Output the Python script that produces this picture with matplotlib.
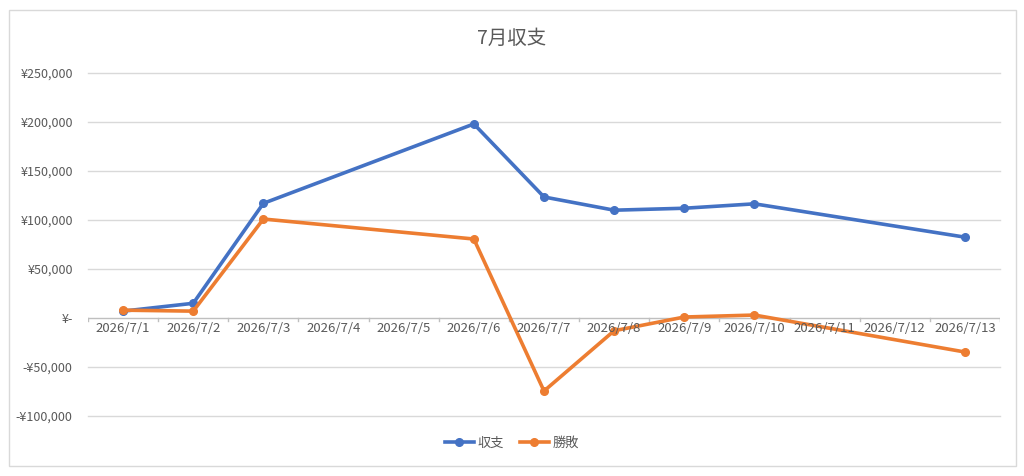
import numpy as np
import matplotlib
matplotlib.use("Agg")
import matplotlib.pyplot as plt
from matplotlib.patches import Rectangle
from matplotlib.ticker import FuncFormatter, MultipleLocator

plt.rcParams['font.family'] = ['Noto Sans CJK JP', 'DejaVu Sans']

dates = ["2026/7/1", "2026/7/2", "2026/7/3", "2026/7/4", "2026/7/5", "2026/7/6",
         "2026/7/7", "2026/7/8", "2026/7/9", "2026/7/10", "2026/7/11", "2026/7/12",
         "2026/7/13"]
shuushi = [7000, 15000, 117000, np.nan, np.nan, 198000, 123500, 110000, 112000,
           116500, np.nan, np.nan, 82500]
shouhai = [8000, 7000, 101000, np.nan, np.nan, 80600, -74500, -13000, 1000,
           3000, np.nan, np.nan, -34700]
series_names = ["収支", "勝敗"]
colors = ["#4472C4", "#ED7D31"]
title = "7月収支"

W, H = 1024, 476
fig = plt.figure(figsize=(W / 100, H / 100), dpi=100)
fig.patches.append(Rectangle((9 / W, 1 - 466 / H), (1016 - 9) / W, (466 - 10) / H,
                             transform=fig.transFigure, fill=False,
                             edgecolor="#D9D9D9", linewidth=1))

left, right, top, bottom = 88, 1000, 73, 416
ax = fig.add_axes([left / W, 1 - bottom / H, (right - left) / W, (bottom - top) / H])

x = np.arange(len(dates))
for vals, name, c in zip([shuushi, shouhai], series_names, colors):
    v = np.array(vals, dtype=float)
    m = ~np.isnan(v)
    ax.plot(x[m], v[m], color=c, linewidth=2.6, marker="o", markersize=5.5,
            label=name, solid_joinstyle="round", zorder=3)

ax.set_xlim(-0.5, len(dates) - 0.5)
ax.set_ylim(-100000, 250000)
ax.yaxis.set_major_locator(MultipleLocator(50000))

def yen(v, pos):
    if v == 0:
        return "¥-"
    s = "¥{:,.0f}".format(abs(v))
    return "-" + s if v < 0 else s

ax.yaxis.set_major_formatter(FuncFormatter(yen))
for gy in np.arange(-100000, 250001, 50000):
    if gy != 0:
        ax.axhline(gy, color="#D9D9D9", linewidth=1, zorder=1, clip_on=False)
for s in ax.spines.values():
    s.set_visible(False)
ax.axhline(0, color="#BFBFBF", linewidth=1, zorder=1)

ax.tick_params(axis="y", length=0, pad=11, labelsize=9, labelcolor="#595959")
ax.set_xticks([])
for i, d in enumerate(dates):
    ax.text(i, -4500, d, ha="center", va="top", fontsize=9.5, color="#595959")
for b in np.arange(-0.5, len(dates) + 0.5, 1):
    ax.plot([b, b], [0, -3500], color="#BFBFBF", linewidth=1, zorder=1)

fig.text(0.5, 1 - 38 / H, title, ha="center", va="center", fontsize=14, color="#595959")

handles, labels = ax.get_legend_handles_labels()
fig.legend(handles, labels, loc="center", bbox_to_anchor=(0.5, 1 - 443 / H), ncol=2,
           frameon=False, fontsize=9.5, labelcolor="#595959", handlelength=2.2,
           handletextpad=0.3, columnspacing=1.2)

fig.savefig("out.png", dpi=100)
